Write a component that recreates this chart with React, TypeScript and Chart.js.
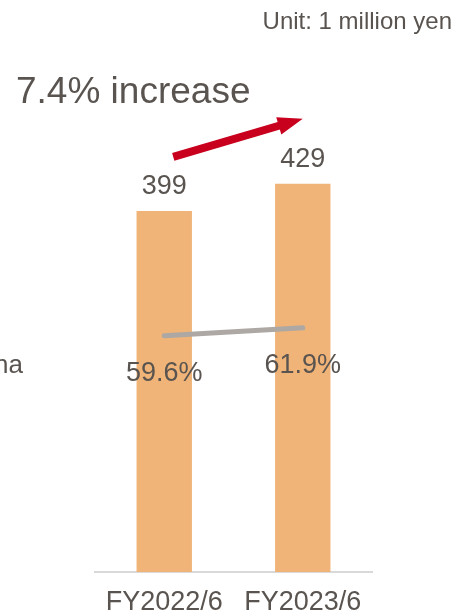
import React, { useEffect, useRef } from "react";
import { Chart, registerables } from "chart.js";

Chart.register(...registerables);

// ---- data ----
const categories = ["FY2022/6", "FY2023/6"];
const salesValues = [399, 429];
const ratioValues = [59.6, 61.9];
const unitText = "Unit: 1 million yen";
const increaseText = "7.4% increase";
const seriesLabelFragment = "na";

const FONT = "'Liberation Sans', Arial, sans-serif";
const TEXT = "#595450";
const BAR = "#F0B478";
const LINE = "#ADA8A3";
const ARROW = "#C8001E";

export default function App() {
  const ref = useRef<HTMLCanvasElement | null>(null);

  useEffect(() => {
    if (!ref.current) return;

    const annotations = {
      id: "annotations",
      afterDatasetsDraw(chart: any) {
        const ctx = chart.ctx as CanvasRenderingContext2D;
        const xs = chart.scales.x;
        const ys = chart.scales.y;
        ctx.save();
        ctx.fillStyle = TEXT;
        ctx.textBaseline = "alphabetic";
        ctx.textAlign = "center";
        ctx.font = `27px ${FONT}`;

        const lineMeta = chart.getDatasetMeta(0);
        const barMeta = chart.getDatasetMeta(1);
        barMeta.data.forEach((el: any, i: number) => {
          ctx.fillText(String(salesValues[i]), el.x, el.y - 16.5);
        });
        lineMeta.data.forEach((el: any, i: number) => {
          ctx.fillText(ratioValues[i].toFixed(1) + "%", el.x, el.y + 45);
        });

        // arrow
        const tailX = xs.getPixelForValue(0) + 9;
        const tailY = ys.getPixelForValue(salesValues[0]) - 54;
        const tipX = xs.getPixelForValue(1);
        const tipY = ys.getPixelForValue(salesValues[1]) - 65;
        const ang = Math.atan2(tipY - tailY, tipX - tailX);
        const L = Math.hypot(tipX - tailX, tipY - tailY);
        const headLen = 25, headW = 18, shaftW = 8;
        ctx.save();
        ctx.translate(tailX, tailY);
        ctx.rotate(ang);
        ctx.fillStyle = ARROW;
        ctx.fillRect(0, -shaftW / 2, L - headLen + 1, shaftW);
        ctx.beginPath();
        ctx.moveTo(L, 0);
        ctx.lineTo(L - headLen, -headW / 2);
        ctx.lineTo(L - headLen, headW / 2);
        ctx.closePath();
        ctx.fill();
        ctx.restore();

        // texts
        ctx.fillStyle = TEXT;
        ctx.textAlign = "left";
        ctx.font = `37px ${FONT}`;
        ctx.fillText(increaseText, 16, 103);
        ctx.textAlign = "right";
        ctx.font = `24px ${FONT}`;
        ctx.fillText(unitText, 452, 29);
        ctx.font = `26px ${FONT}`;
        ctx.fillText(seriesLabelFragment, 23, 373);
        ctx.restore();
      },
    };

    const chart = new Chart(ref.current, {
      type: "bar",
      data: {
        labels: categories,
        datasets: [
          {
            type: "line",
            data: ratioValues,
            yAxisID: "y1",
            borderColor: LINE,
            borderWidth: 5,
            borderCapStyle: "round",
            pointRadius: 0,
            tension: 0,
            order: 0,
          } as any,
          {
            type: "bar",
            data: salesValues,
            yAxisID: "y",
            backgroundColor: BAR,
            barPercentage: 0.4,
            categoryPercentage: 1,
            order: 1,
          },
        ],
      },
      options: {
        animation: false,
        responsive: true,
        maintainAspectRatio: false,
        layout: { padding: { left: 95, right: 82, top: 29, bottom: 0 } },
        plugins: { legend: { display: false }, tooltip: { enabled: false } },
        scales: {
          x: {
            grid: { display: false, drawTicks: false },
            border: { display: true, color: "#D9D9D9", width: 2 },
            ticks: {
              color: TEXT,
              padding: 17,
              font: { family: FONT, size: 27, lineHeight: 1 },
            },
            afterFit: (scale: any) => {
              scale.height = 43;
            },
          },
          y: { display: false, min: 0, max: 600 },
          y1: { display: false, min: -8.3, max: 147.8 },
        },
      },
      plugins: [annotations],
    });
    return () => chart.destroy();
  }, []);

  return (
    <div style={{ position: "fixed", left: 0, top: 0, width: 454, height: 615, background: "#fff" }}>
      <canvas ref={ref} />
    </div>
  );
}
